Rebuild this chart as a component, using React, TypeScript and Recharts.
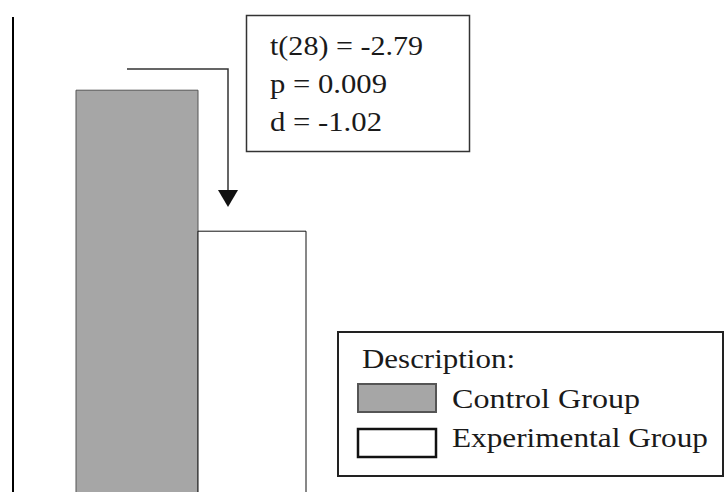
import React from 'react';
import { BarChart, Bar, XAxis, YAxis, Legend } from 'recharts';

// values (axis has no ticks, 0-100 assumed)
const CATEGORIES = ['Post-test'];
const CONTROL = [87.8];
const EXPERIMENTAL = [64.3];
const SERIES_NAMES = ['Control Group', 'Experimental Group'];
const LEGEND_TITLE = 'Description:';
const STATS = ['t(28) = -2.79', 'p = 0.009', 'd = -1.02'];

const FONT = "'Liberation Serif', 'DejaVu Serif', serif";
const GRAY = '#a6a6a6';
const TEXT_STYLE = { fontFamily: FONT, fontSize: 28, fill: '#1a1a1a' };

const data = CATEGORIES.map((name, i) => ({
    name,
    control: CONTROL[i],
    experimental: EXPERIMENTAL[i]
}));

const STAT_WIDTHS = [153, 117, 112];

const LegendBox = () => (
    <svg width={387} height={147} style={{ display: 'block' }}>
        <rect x={1} y={1} width={385} height={144} fill="#fff" stroke="#222" strokeWidth={2} />
        <text x={25} y={37} style={TEXT_STYLE} textLength={153} lengthAdjust="spacingAndGlyphs">
            {LEGEND_TITLE}
        </text>
        <rect x={21} y={53} width={78} height={28} fill={GRAY} stroke="#555" strokeWidth={2} />
        <text x={115} y={77} style={TEXT_STYLE} textLength={188} lengthAdjust="spacingAndGlyphs">
            {SERIES_NAMES[0]}
        </text>
        <rect x={21} y={98} width={78} height={28} fill="#fff" stroke="#111" strokeWidth={2.5} />
        <text x={115} y={116} style={TEXT_STYLE} textLength={256} lengthAdjust="spacingAndGlyphs">
            {SERIES_NAMES[1]}
        </text>
    </svg>
);

export default function App() {
    return (
        <div style={{ position: 'fixed', top: 0, left: 0, width: 724, height: 492, overflow: 'hidden', background: '#fff' }}>
            <BarChart width={724} height={617} data={data} margin={{ top: 17, right: 0, bottom: 0, left: 0 }}>
                <XAxis xAxisId="a" dataKey="name" hide padding={{ left: 0, right: 463 }} />
                <XAxis xAxisId="b" dataKey="name" hide padding={{ left: 0, right: 233 }} />
                <YAxis
                    width={13}
                    domain={[0, 100]}
                    tick={false}
                    tickLine={false}
                    axisLine={{ stroke: '#000', strokeWidth: 2 }}
                />
                <Legend
                    layout="horizontal"
                    verticalAlign="middle"
                    align="center"
                    content={() => <LegendBox />}
                    wrapperStyle={{ left: 337, top: 331, width: 387, height: 147 }}
                />
                <Bar
                    xAxisId="a"
                    dataKey="control"
                    name={SERIES_NAMES[0]}
                    barSize={122}
                    fill={GRAY}
                    stroke="#555"
                    strokeWidth={1}
                    isAnimationActive={false}
                />
                <Bar
                    xAxisId="b"
                    dataKey="experimental"
                    name={SERIES_NAMES[1]}
                    barSize={108}
                    fill="#fff"
                    stroke="#111"
                    strokeWidth={1}
                    isAnimationActive={false}
                />
            </BarChart>
            <svg width={724} height={492} style={{ position: 'absolute', top: 0, left: 0, pointerEvents: 'none' }}>
                <polyline points="127,69 228,69 228,192" fill="none" stroke="#333" strokeWidth={1.5} />
                <polygon points="218,190 238,190 228,207" fill="#111" />
                <rect x={246.5} y={15.5} width={223} height={136} fill="#fff" stroke="#333" strokeWidth={1.5} />
                {STATS.map((s, i) => (
                    <text
                        key={s}
                        x={270}
                        y={55 + i * 38}
                        style={TEXT_STYLE}
                        textLength={STAT_WIDTHS[i]}
                        lengthAdjust="spacingAndGlyphs"
                    >
                        {s}
                    </text>
                ))}
            </svg>
        </div>
    );
}
